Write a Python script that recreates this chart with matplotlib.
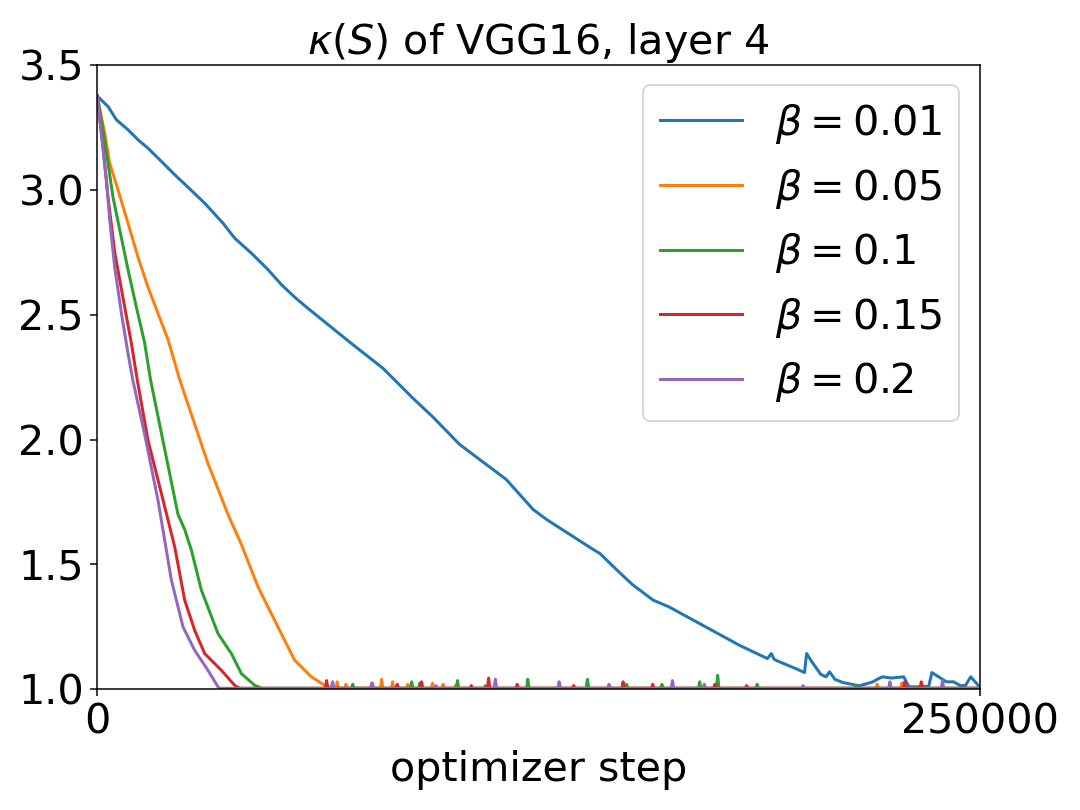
import numpy as np
import matplotlib
matplotlib.use("Agg")
import matplotlib.pyplot as plt

# values (optimizer step, kappa)
betas = ["0.01", "0.05", "0.1", "0.15", "0.2"]

blue_x = [0, 3060, 5440, 8730, 11560, 14390, 17710, 21960, 25720, 30460,
          35640, 38950, 43680, 48390, 52180, 55950, 59270, 71530, 80970,
          89470, 95130, 102700, 115900, 123500, 127300, 140500, 142400,
          147800, 151600, 157500, 162000, 170700, 182000,
          189900, 191000, 191800, 192500, 198400, 200400, 201000, 202500,
          205000, 206500, 207500, 209000, 211300, 216000, 219800, 221000,
          222500, 225000, 228500, 230000, 232500, 235600, 236500, 240600,
          242700, 244500, 246000, 247500, 250000]
blue_y = [3.375, 3.333, 3.28, 3.24, 3.20, 3.166, 3.12, 3.06, 3.01, 2.946,
          2.866, 2.806, 2.746, 2.68, 2.62, 2.57, 2.53, 2.39, 2.285,
          2.165, 2.09, 1.98, 1.84, 1.72, 1.68, 1.56, 1.544,
          1.47, 1.42, 1.357, 1.33, 1.263, 1.176,
          1.123, 1.143, 1.12, 1.115, 1.08, 1.067, 1.143, 1.11,
          1.06, 1.05, 1.07, 1.04, 1.027, 1.014, 1.03, 1.04,
          1.05, 1.045, 1.05, 1.01, 1.01, 1.012, 1.067, 1.03,
          1.03, 1.015, 1.015, 1.05, 1.01]

orange_x = [0, 2125, 3540, 5890, 8730, 11560, 14390, 17220, 20060, 23370,
            26580, 31390, 37060, 40850, 45560, 50290, 55950, 60680, 64450, 66400]
orange_y = [3.375, 3.226, 3.106, 3.0, 2.866, 2.73, 2.61, 2.505, 2.40, 2.24,
            2.105, 1.904, 1.70, 1.58, 1.41, 1.276, 1.116, 1.05, 1.016, 1.005]

green_x = [0, 1640, 3060, 4480, 6370, 8730, 11100, 13460, 15100,
           22890, 24790, 26690, 29520, 34220, 38020, 40850, 44620, 46600]
green_y = [3.375, 3.24, 3.106, 2.97, 2.84, 2.68, 2.53, 2.385, 2.24,
           1.70, 1.64, 1.557, 1.397, 1.223, 1.143, 1.063, 1.016, 1.004]

red_x = [0, 1640, 3060, 4960, 7790, 9690, 11330, 14390, 18190, 21960,
         24790, 27620, 30460, 35190, 38950, 40370]
red_y = [3.375, 3.17, 2.97, 2.75, 2.53, 2.385, 2.24, 1.997, 1.784, 1.57,
         1.357, 1.236, 1.143, 1.076, 1.016, 1.004]

purple_x = [0, 2610, 3540, 4960, 6860, 8730, 10060, 13460, 17220, 21020,
            24310, 27620, 31390, 34220, 34700]
purple_y = [3.375, 3.04, 2.88, 2.69, 2.505, 2.345, 2.24, 2.02, 1.757, 1.437,
            1.25, 1.156, 1.076, 1.01, 1.004]

# small spikes on the flat tails near 1.0 (step, kappa)
base = 1.004
orange_spk_x = [68000, 70500, 78000, 80600, 83700, 88000, 95000, 98000,
                101500, 221000, 228000]
orange_spk_y = [1.03, 1.02, 1.025, 1.04, 1.03, 1.02, 1.025, 1.02,
                1.015, 1.02, 1.025]
green_spk_x = [72400, 89100, 91400, 102100, 110000, 122000, 138900, 150000,
               160000, 170700, 175800, 187000, 215000]
green_spk_y = [1.02, 1.03, 1.025, 1.035, 1.015, 1.04, 1.04, 1.02,
               1.02, 1.03, 1.056, 1.02, 1.015]
red_spk_x = [65000, 85000, 91900, 106000, 110900, 119000, 135000, 149000,
             157400, 175000, 184000, 228800, 233500]
red_spk_y = [1.035, 1.02, 1.03, 1.015, 1.045, 1.02, 1.015, 1.03,
             1.02, 1.02, 1.015, 1.03, 1.03]
purple_spk_x = [66700, 77800, 96000, 112800, 130900, 145000, 163000, 172000,
                200000, 224600, 239500]
purple_spk_y = [1.03, 1.025, 1.015, 1.04, 1.03, 1.02, 1.035, 1.02,
                1.015, 1.03, 1.035]

colors = ["#1f77b4", "#ff7f0e", "#2ca02c", "#d62728", "#9467bd"]


def with_tail(xs, ys, spk_x, spk_y, end=250000, w=350):
    """append flat tail at `base` with narrow spikes"""
    xs, ys = list(xs), list(ys)
    for sx, sy in sorted(zip(spk_x, spk_y)):
        if sx - w <= xs[-1]:
            continue
        xs += [sx - w, sx, sx + w]
        ys += [base, sy, base]
    xs.append(end)
    ys.append(base)
    return np.array(xs), np.array(ys)


series = [
    (np.array(blue_x), np.array(blue_y)),
    with_tail(orange_x, orange_y, orange_spk_x, orange_spk_y),
    with_tail(green_x, green_y, green_spk_x, green_spk_y),
    with_tail(red_x, red_y, red_spk_x, red_spk_y),
    with_tail(purple_x, purple_y, purple_spk_x, purple_spk_y),
]

fs = 22
fig, ax = plt.subplots(figsize=(8, 6), dpi=135)
fig.subplots_adjust(left=0.09, right=0.907, top=0.92, bottom=0.149)

for (x, y), b, c in zip(series, betas, colors):
    ax.plot(x, y, color=c, lw=1.6, label=rf"$\beta = {b}$")

ax.set_xlim(0, 250000)
ax.set_ylim(1.0, 3.5)
ax.set_xticks([0, 250000])
ax.set_xticklabels(["0", "250000"])
ax.set_yticks([1.0, 1.5, 2.0, 2.5, 3.0, 3.5])
ax.tick_params(labelsize=fs)
ax.set_xlabel("optimizer step", fontsize=fs)
ax.set_title(r"$\kappa(S)$ of VGG16, layer 4", fontsize=fs)
ax.legend(loc="upper right", fontsize=fs)

fig.savefig("out.png", dpi=135)
